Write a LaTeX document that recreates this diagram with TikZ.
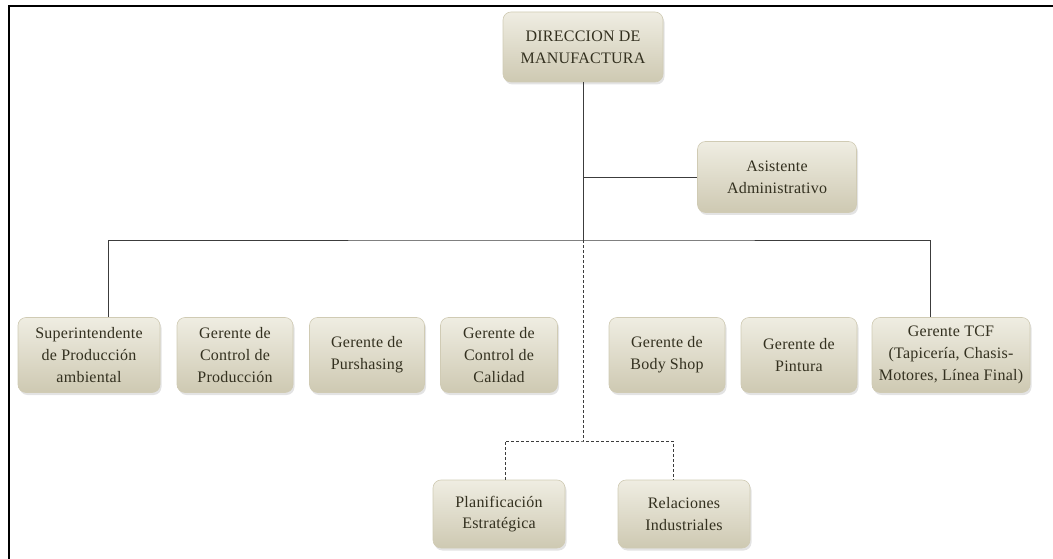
\documentclass[tikz,border=0pt]{standalone}
\usepackage{fontspec}
\setmainfont{Liberation Serif}
\newfontfamily\unitfont[LetterSpace=1.5]{Liberation Serif}
\usepackage{tikz}
\usetikzlibrary{%
	positioning,% wg. " of "
	shadows,%
	calc
}
\definecolor{boxtop}{HTML}{EFEDE2}
\definecolor{boxmid}{HTML}{E1DECB}
\definecolor{boxbot}{HTML}{CEC9B2}
\definecolor{boxrim}{HTML}{D0CBB4}
\definecolor{boxtext}{HTML}{33301F}
\definecolor{linkcol}{HTML}{3C3C3C}
\tikzstyle{unit} = [rounded corners=8pt, draw=boxrim, line width=0.6pt, top color=boxtop, middle color=boxmid, bottom color=boxbot, drop shadow={shadow xshift=1.5pt, shadow yshift=-2.5pt, opacity=0.22}, align=center, text=boxtext, font=\unitfont\fontsize{16}{21.7}\selectfont, inner sep=2pt]
\tikzstyle{manager} = [unit, minimum height=75pt]
\tikzstyle{advisor} = [unit, minimum width=132pt, minimum height=68pt]
\tikzstyle{link} = [draw=linkcol, line width=0.9pt]
\tikzstyle{staff} = [link, dash pattern=on 3pt off 2pt]
\tikzstyle{frame} = [draw=black, line width=2.5pt]

\begin{document}
\begin{tikzpicture}[x=1pt, y=-1pt]
		
		\useasboundingbox (0,0) rectangle (1053,559);
		
		% Frame of the page
		\draw[frame] (9,559) -- (9,6) -- (1053,6);
		
		% Head and staff
		\node[unit, minimum width=160pt, minimum height=70pt] (dir) at (583,47) {DIRECCION DE\\MANUFACTURA};
		\node[unit, minimum width=159pt, minimum height=71pt] (asis) at (777,177) {Asistente\\Administrativo};
		
		% Managers
		\node[manager, minimum width=142pt] (sup) at (89,355) {Superintendente\\de Producción\\ambiental};
		\node[manager, minimum width=116pt] (cprod) at (235,355) {Gerente de\\Control de\\Producción};
		\node[manager, minimum width=115pt] (purs) at (367,355) {Gerente de\\Purshasing};
		\node[manager, minimum width=117pt] (cal) at (499,355) {Gerente de\\Control de\\Calidad};
		\node[manager, minimum width=116pt] (body) at (667,355) {Gerente de\\Body Shop};
		\node[manager, minimum width=116pt] (pint) at (799,355) {Gerente de\\Pintura};
		\node[manager, minimum width=158pt] (tcf) at (951,355) {Gerente TCF\\(Tapicería, Chasis-\\Motores, Línea Final)};
		
		% Advisory units
		\node[advisor] (plan) at (499,514) {Planificación\\Estratégica};
		\node[advisor] (rel) at (684,514) {Relaciones\\Industriales};
		
		% Junctions
		\coordinate (bus) at (583,240);
		\coordinate (split) at (583,441);
		
		% Solid lines
		\path[link] (dir.south) -- (bus);
		\path[link] (dir.south |- asis.west) -- (asis.west);
		\path[link] ([xshift=19pt]sup.north) |- (bus) -| ([xshift=-21pt]tcf.north);
		
		% Dashed lines
		\path[staff] (bus) -- (split);
		\path[staff] ([xshift=6pt]plan.north) |- (split) -| ([xshift=-11pt]rel.north);
		
		\end{tikzpicture}
\end{document}
